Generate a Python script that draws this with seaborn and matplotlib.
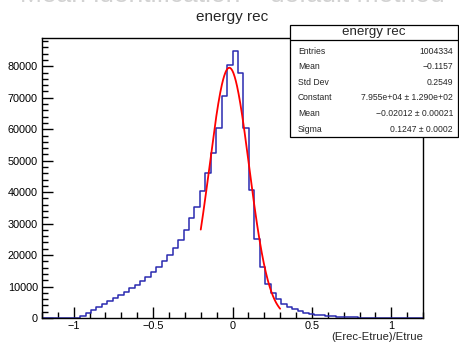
import numpy as np
import pandas as pd
import matplotlib
matplotlib.use("Agg")
import matplotlib.pyplot as plt
from matplotlib.patches import Rectangle
from matplotlib.ticker import MultipleLocator
import seaborn as sns

# histogram: 70 bins on [-1.2, 1.2]
x_min, x_max, n_bins = -1.2, 1.2, 70
counts = [
    0, 0, 0, 0, 0, 0, 0,
    750, 1600, 2550, 3400, 4470, 5300, 6400, 7300, 8300, 9400,
    10500, 11700, 13000, 14500, 16100, 18000, 19900, 22100, 24900, 28100,
    31700, 35300, 40400, 46000, 52300, 60400, 70500, 80500,
    84800, 77900, 60400, 40600, 25200, 16200, 10900, 7900, 6100, 4500,
    3600, 2800, 2100, 1600, 1300, 1000, 800, 650, 500, 400,
    300, 250, 200, 150, 120, 100, 80, 60, 50, 40,
    30, 20, 10, 10, 0,
]

# gaussian fit shown in the stats box
fit_const, fit_mean, fit_sigma = 7.955e4, -0.02012, 0.1247
fit_lo, fit_hi = -0.2, 0.3

stat_title = "energy rec"
stat_labels = ["Entries", "Mean", "Std Dev", "Constant", "Mean", "Sigma"]
stat_values = ["1004334", "\u22120.1157", "0.2549", "7.955e+04 \u00b1 1.290e+02",
               "\u22120.02012 \u00b1 0.00021", "0.1247 \u00b1 0.0002"]

sns.set_theme(style="ticks")
plt.rcParams['font.family'] = ['Liberation Sans', 'DejaVu Sans']

W, H = 459, 342
fig = plt.figure(figsize=(W / 100, H / 100), dpi=100)
ax = fig.add_axes([42 / W, 1 - 318 / H, (423 - 42) / W, (318 - 38) / H])

edges = np.linspace(x_min, x_max, n_bins + 1)
df = pd.DataFrame({"x": (edges[:-1] + edges[1:]) / 2, "n": counts})
sns.histplot(data=df, x="x", weights="n", bins=n_bins, binrange=(x_min, x_max),
             element="step", fill=False, color="#2a2ab0", linewidth=1.1, ax=ax)

xf = np.linspace(fit_lo, fit_hi, 200)
yf = fit_const * np.exp(-0.5 * ((xf - fit_mean) / fit_sigma) ** 2)
sns.lineplot(x=xf, y=yf, color="#ff0000", linewidth=1.3, ax=ax)

ax.set_xlim(x_min, x_max)
ax.set_ylim(0, 89000)
ax.set_ylabel("")
ax.set_xlabel("")
ax.xaxis.set_major_locator(MultipleLocator(0.5))
ax.xaxis.set_minor_locator(MultipleLocator(0.1))
ax.yaxis.set_major_locator(MultipleLocator(10000))
ax.yaxis.set_minor_locator(MultipleLocator(2000))
ax.xaxis.set_major_formatter(plt.FuncFormatter(lambda v, p: ("%g" % v).replace("-", "\u2212")))
ax.tick_params(which="both", direction="in", colors="black", labelsize=7.8, width=1)
ax.tick_params(which="major", length=8)
ax.tick_params(which="minor", length=4)
ax.tick_params(axis="x", pad=2.5)
ax.tick_params(axis="y", pad=3)
for s in ax.spines.values():
    s.set_color("black")
    s.set_linewidth(1)

fig.text(423 / W, 1 - 337 / H, "(Erec-Etrue)/Etrue", ha="right", va="center", fontsize=8.1)
fig.text(232 / W, 1 - 17 / H, "energy rec", ha="center", va="center", fontsize=11)
# slide title above the plot, mostly cut off by the top edge
fig.text(232 / W, 1 - 1.5 / H, "Mean identification \u2013 default method", ha="center",
         va="baseline", fontsize=19, color="#d2d2d2")

# stats box
def px(x, y):
    return x / W, 1 - y / H

bx0, by0, bx1, by1 = 290, 25, 458, 137
fig.add_artist(Rectangle(px(bx0, by1), (bx1 - bx0) / W, (by1 - by0) / H,
                         transform=fig.transFigure, facecolor="white",
                         edgecolor="black", linewidth=0.9, zorder=5))
fig.add_artist(plt.Line2D([bx0 / W, bx1 / W], [1 - 40 / H, 1 - 40 / H],
                          transform=fig.transFigure, color="black", linewidth=0.9, zorder=6))
fig.text(*px((bx0 + bx1) / 2, 32.5), stat_title, ha="center", va="center", fontsize=9.6, zorder=7)
for i, (lab, val) in enumerate(zip(stat_labels, stat_values)):
    yy = 51 + i * 15.6
    fig.text(*px(298, yy), lab, ha="left", va="center", fontsize=6.2, zorder=7)
    fig.text(*px(453, yy), val, ha="right", va="center", fontsize=6.2, zorder=7)

fig.savefig("out.png", dpi=100)
